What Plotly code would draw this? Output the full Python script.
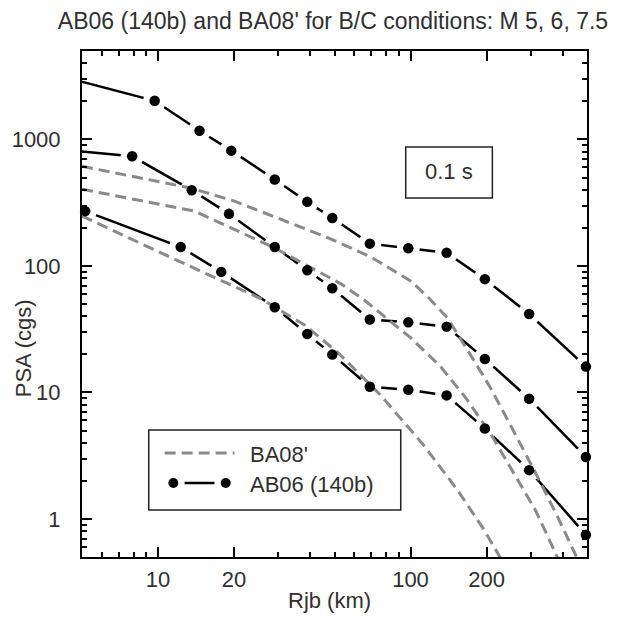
import math
import plotly.graph_objects as go

# ---------------- data ----------------
# AB06 (140b): Rjb (km) and PSA (cgs) for M 7.5, 6, 5
ab06_m75_rjb = [4.4, 9.7, 14.6, 19.5, 29, 39, 49, 69, 98, 139, 197, 295, 495]
ab06_m75_psa = [3050, 2020, 1170, 815, 482, 321, 239, 150, 138, 127, 78.6, 41.7, 16.0]

ab06_m6_rjb = [4.5, 7.9, 13.6, 19.1, 29, 39, 49, 69, 98, 139, 197, 295, 495]
ab06_m6_psa = [820, 735, 397, 258, 141, 92.5, 66.7, 37.7, 35.8, 33.1, 18.4, 8.92, 3.09]

ab06_m5_rjb = [5.15, 12.3, 17.8, 29, 39, 49, 69, 98, 139, 197, 295, 495]
ab06_m5_psa = [271, 141, 89.7, 47.2, 29.0, 19.9, 11.1, 10.5, 9.47, 5.18, 2.43, 0.748]

# BA08': Rjb (km) and PSA (cgs) for M 7.5, 6, 5
ba08_m75_rjb = [5, 13.6, 20.1, 48.5, 69.7, 100, 118, 139.8, 169.7, 207, 255, 317.5, 381, 456.5, 491]
ba08_m75_psa = [613, 411, 325, 163, 117.7, 76.2, 56, 39.0, 21.0, 10.95, 5.02, 2.18, 1.056, 0.5, 0.362]

ba08_m6_rjb = [5, 13.96, 28.9, 53, 65.4, 100, 131.6, 165, 207, 253, 312, 381, 409]
ba08_m6_psa = [404, 271, 139, 72.2, 54.0, 27.1, 16.0, 9.13, 4.76, 2.43, 1.18, 0.502, 0.362]

ba08_m5_rjb = [5, 11.3, 25.6, 37.9, 51.6, 76.3, 112.7, 153.5, 194.5, 227, 239.5]
ba08_m5_psa = [248, 116, 55, 34.3, 20.65, 9.47, 3.83, 1.69, 0.834, 0.502, 0.411]

x_tick_vals = [10, 20, 100, 200]
x_tick_text = ["10", "20", "100", "200"]
x_minor_vals = [6, 7, 8, 9, 30, 40, 50, 60, 70, 80, 90, 300, 400]
y_tick_vals = [1, 10, 100, 1000]
y_tick_text = ["1", "10", "100", "1000"]
y_minor_vals = [0.6, 0.7, 0.8, 0.9] + [m * d for d in (1, 10, 100) for m in range(2, 10)] + [2000, 3000, 4000]

x_min, x_max = 5, 500
y_min, y_max = 0.5, 5000

title_text = "AB06 (140b) and BA08' for B/C conditions: M 5, 6, 7.5"
x_title = "Rjb (km)"
y_title = "PSA (cgs)"
period_label = "0.1 s"
legend_ba08 = "BA08'"
legend_ab06 = "AB06 (140b)"

# ---------------- figure ----------------
FONT = "Liberation Sans, Arial, sans-serif"
TXT = "#303030"
GRAY = "#8a8a8a"

ab06 = [(ab06_m75_rjb, ab06_m75_psa), (ab06_m6_rjb, ab06_m6_psa), (ab06_m5_rjb, ab06_m5_psa)]
ba08 = [(ba08_m75_rjb, ba08_m75_psa), (ba08_m6_rjb, ba08_m6_psa), (ba08_m5_rjb, ba08_m5_psa)]


def visible(r, p):
    pts = [(a, b) for a, b in zip(r, p) if x_min <= a <= x_max]
    return [a for a, _ in pts], [b for _, b in pts]


fig = go.Figure()
# AB06 connecting lines
for r, p in ab06:
    fig.add_trace(go.Scatter(x=r, y=p, mode="lines", line=dict(color="black", width=2.5),
                             showlegend=False, hoverinfo="skip"))
# white gaps around AB06 points
for r, p in ab06:
    vx, vy = visible(r, p)
    fig.add_trace(go.Scatter(x=vx, y=vy, mode="markers", marker=dict(color="white", size=23, line=dict(width=0)),
                             showlegend=False, hoverinfo="skip"))
# BA08' dashed curves
for r, p in ba08:
    fig.add_trace(go.Scatter(x=r, y=p, mode="lines", line=dict(color=GRAY, width=3, dash="11px,6px"),
                             showlegend=False, hoverinfo="skip"))
# AB06 points
for r, p in ab06:
    vx, vy = visible(r, p)
    fig.add_trace(go.Scatter(x=vx, y=vy, mode="markers", marker=dict(color="black", size=10.5, symbol="circle"),
                             cliponaxis=False, showlegend=False, hoverinfo="skip"))

axis_common = dict(
    type="log", showgrid=False, zeroline=False, showline=True, linecolor="black", linewidth=2,
    mirror="allticks", ticks="inside", ticklen=10, tickwidth=1.5, tickcolor="black",
    tickfont=dict(family=FONT, size=22, color=TXT),
)

fig.update_layout(
    width=621, height=617,
    margin=dict(l=80, r=34, t=51, b=60),
    paper_bgcolor="white", plot_bgcolor="white",
    showlegend=False,
    title=dict(text=title_text, x=333 / 621, xanchor="center", y=1 - 21 / 617, yanchor="middle",
               font=dict(family=FONT, size=23, color=TXT)),
    xaxis=dict(axis_common, range=[math.log10(x_min), math.log10(x_max)],
               tickmode="array", tickvals=x_tick_vals, ticktext=x_tick_text, ticklabelstandoff=2,
               minor=dict(tickmode="array", tickvals=x_minor_vals, ticks="inside", ticklen=5,
                          tickwidth=1.5, tickcolor="black", showgrid=False)),
    yaxis=dict(axis_common, range=[math.log10(y_min), math.log10(y_max)],
               tickmode="array", tickvals=y_tick_vals, ticktext=y_tick_text, ticklabelstandoff=15,
               minor=dict(tickmode="array", tickvals=y_minor_vals, ticks="inside", ticklen=5,
                          tickwidth=1.5, tickcolor="black", showgrid=False)),
)

# pixel helpers for decorations (paper coordinates of the plot area)
PL, PR, PT, PB = 80, 587, 51, 557


def px(xp):
    return (xp - PL) / (PR - PL)


def py(yp):
    return (PB - yp) / (PB - PT)


annotations = [
    dict(text=x_title, x=px(328), y=py(600), xref="paper", yref="paper", showarrow=False,
         xanchor="center", yanchor="middle", font=dict(family=FONT, size=22, color=TXT)),
    dict(text=y_title, x=px(22), y=py(348), xref="paper", yref="paper", showarrow=False, textangle=-90,
         xanchor="center", yanchor="middle", font=dict(family=FONT, size=22, color=TXT)),
    dict(text=period_label, x=px(448.5), y=py(172), xref="paper", yref="paper", showarrow=False,
         xanchor="center", yanchor="middle", font=dict(family=FONT, size=22, color=TXT)),
    dict(text=legend_ba08, x=px(247), y=py(454), xref="paper", yref="paper", showarrow=False,
         xanchor="left", yanchor="middle", font=dict(family=FONT, size=22, color=TXT)),
    dict(text=legend_ab06, x=px(247), y=py(484), xref="paper", yref="paper", showarrow=False,
         xanchor="left", yanchor="middle", font=dict(family=FONT, size=22, color=TXT)),
]

shapes = [
    # period box
    dict(type="rect", xref="paper", yref="paper", x0=px(405), x1=px(492), y0=py(147), y1=py(198),
         line=dict(color="#222", width=1.5), fillcolor="white", layer="above"),
    # legend box
    dict(type="rect", xref="paper", yref="paper", x0=px(147), x1=px(400), y0=py(430), y1=py(510),
         line=dict(color="#222", width=1.5), fillcolor="white", layer="above"),
    # legend BA08' sample
    dict(type="line", xref="paper", yref="paper", x0=px(163), x1=px(233), y0=py(453), y1=py(453),
         line=dict(color=GRAY, width=3, dash="11px,6px"), layer="above"),
    # legend AB06 sample
    dict(type="line", xref="paper", yref="paper", x0=px(183), x1=px(213), y0=py(483), y1=py(483),
         line=dict(color="black", width=2.5), layer="above"),
]
for cx in (171.7, 224.3):
    shapes.append(dict(type="circle", xref="paper", yref="paper", xsizemode="pixel", ysizemode="pixel",
                       xanchor=px(cx), yanchor=py(483), x0=-5, x1=5, y0=-5, y1=5,
                       fillcolor="black", line=dict(color="black", width=0), layer="above"))

fig.update_layout(annotations=annotations, shapes=shapes)
fig.write_html("out.html")
